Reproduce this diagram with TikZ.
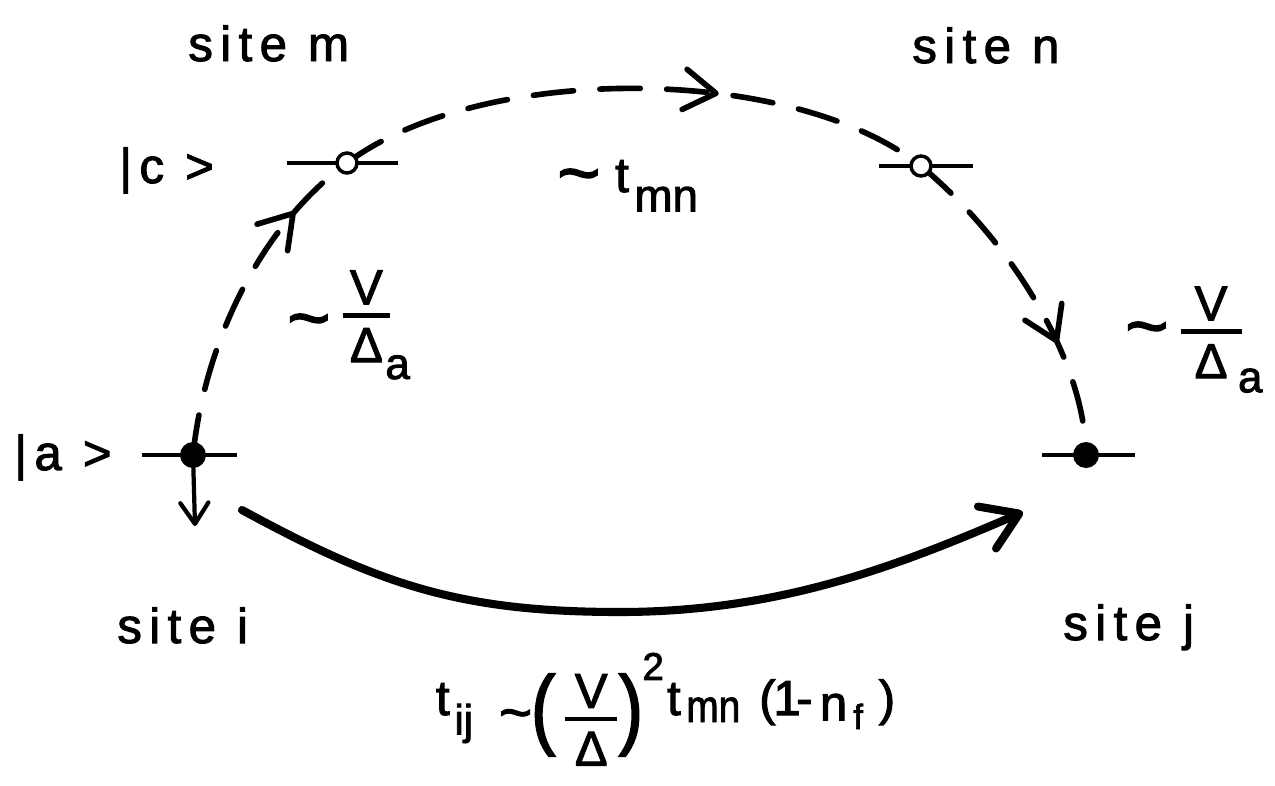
\documentclass[tikz,border=0pt]{standalone}
\usepackage{fontspec}
\usepackage{graphicx}
\setmainfont{Liberation Sans}[FakeBold=2]
\newfontfamily\lsfont{Liberation Sans}[LetterSpace=15,FakeBold=2]
\usetikzlibrary{arrows.meta,decorations.markings,calc}
\pgfdeclarelayer{bg}
\pgfsetlayers{bg,main}
% big tilde
\newcommand\btl[1]{\raisebox{-0.12em}{\fontsize{#1}{#1}\selectfont\textasciitilde}}
% piece placed at an offset from the start of the line
\newcommand\putat[2]{\rlap{\hskip#1\relax#2}}
% fraction: #1 height of bar above baseline, #2 side padding, #3 top, #4 bottom
\newcommand\barfrac[4]{%
  \setbox0\vbox{\halign{\hfil\kern#2##\kern#2\hfil\cr #4\cr}}%
  \setbox2\vbox{\halign{\hfil\kern#2##\kern#2\hfil\cr #3\cr\noalign{\kern5pt\hrule height 2.6pt\kern6pt}#4\cr}}%
  \raisebox{\dimexpr #1-\ht0-6pt-2.6pt\relax}{\box2}}
\newcommand\subA[2]{\rlap{\kern#1\smash{\raisebox{-#2}{\fontsize{25}{25}\selectfont a}}}}
\begin{document}
\begin{tikzpicture}[x=0.02cm,y=-0.02cm,
  lbl/.style={font=\fontsize{28}{32}\selectfont, inner sep=0pt},
  word/.style={font=\fontsize{28}{32}\selectfont\lsfont, inner sep=0pt},
  dashedconn/.style={line width=3.2pt, dash pattern=on 23pt off 15pt, line cap=round},
  level/.style={line width=1.8pt},
  fdot/.style={circle, fill=black, inner sep=0pt, minimum size=0.52cm},
  odot/.style={circle, draw=black, fill=white, line width=2pt, inner sep=0pt, minimum size=0.4cm},
  midarrow/.style={postaction={decorate}, decoration={markings, mark=at position #1 with {\pgfsetdash{}{0pt}\arrow{Straight Barb[length=18pt,width=23pt,round,line width=3.2pt]}}}}]
\useasboundingbox (0,0) rectangle (1275,785);
% states
\node[fdot] (a) at (193,455) {};
\node[odot] (m) at (347,163) {};
\node[odot] (n) at (921,166) {};
\node[fdot] (j) at (1086,455) {};
\coordinate (adown) at (195,526);
\coordinate (ti) at (242,510);
\coordinate (tmid) at (620,612);
\coordinate (tj) at (1023,512);
\begin{pgfonlayer}{bg}
  \draw[dashedconn, midarrow=0.79] (a.center) .. controls (205,340) and (262,225) .. (m.center);
  \draw[dashedconn, midarrow=0.64] (m.center) .. controls (480,63) and (790,63) .. (n.center);
  \draw[dashedconn, midarrow=0.66] (n.center) .. controls (1010,240) and (1085,360) .. (j.center);
  \draw[level] ($(a)+(-51,0)$) -- ($(a)+(44,0)$);
  \draw[level] ($(m)+(-60,0)$) -- ($(m)+(51,0)$);
  \draw[level] ($(n)+(-42,0)$) -- ($(n)+(52,0)$);
  \draw[level] ($(j)+(-44,0)$) -- ($(j)+(49,0)$);
\end{pgfonlayer}
\draw[line width=2.4pt, -{Straight Barb[length=12pt,width=16pt,round]}] (a.center) -- (adown);
\draw[line width=4.6pt, line cap=round, -{Straight Barb[length=20pt,width=26pt,round]}]
  (ti) .. controls (380,585) and (460,612) .. (tmid) .. controls (780,612) and (900,565) .. (tj);
% labels
\node[word, anchor=base west] (sm) at (188,61) {site m};
\node[word, anchor=base west] (sn) at (912,63) {site n};
\node[word, anchor=base west] (si) at (117,643) {site i};
\node[word, anchor=base west] (sj) at (1063,640) {site j};
\node[word, anchor=base west] (ka) at (14,470) {|a >};
\node[word, anchor=base west] (kc) at (119,183) {|c >};
\node[lbl, anchor=base west] (tmn) at (556,192) {\putat{0pt}{\btl{42}}\putat{33pt}{t}\putat{44pt}{\raisebox{-11pt}{\fontsize{26}{26}\selectfont mn}}\hskip84pt};
\node[lbl, anchor=base west] (vl) at (286,337) {\putat{0pt}{\btl{42}}\putat{31.5pt}{\barfrac{13.6pt}{4.2pt}{V}{Δ\subA{1.5pt}{9.6pt}}}\hskip75pt};
\node[lbl, anchor=base west] (vr) at (1124,345) {\putat{0pt}{\btl{42}}\putat{31.5pt}{\barfrac{9pt}{8pt}{V}{Δ\subA{6pt}{8pt}}}\hskip78pt};
\node[lbl, anchor=base west] (tij) at (433,715) {%
  \putat{1pt}{t}%
  \putat{11.5pt}{\raisebox{-11pt}{\fontsize{24}{24}\selectfont ij}}%
  \putat{37pt}{\raisebox{-6pt}{\btl{32}}}%
  \putat{55pt}{\raisebox{-13pt}{\scalebox{1.5}[1.8]{(}}}%
  \putat{74.5pt}{\barfrac{-1pt}{5.5pt}{V}{Δ}}%
  \putat{105pt}{\raisebox{-13pt}{\scalebox{1.5}[1.8]{)}}}%
  \putat{118.5pt}{\raisebox{20pt}{\fontsize{22}{22}\selectfont 2}}%
  \putat{132.5pt}{t}%
  \putat{143.5pt}{\raisebox{-4pt}{\scalebox{0.85}[1]{\fontsize{26}{26}\selectfont mn}}}%
  \putat{185pt}{(}%
  \putat{193pt}{1}%
  \putat{206pt}{-}%
  \putat{219.5pt}{\raisebox{-3pt}{n}}%
  \putat{238.5pt}{\raisebox{-8pt}{\fontsize{20}{20}\selectfont f}}%
  \putat{253pt}{)}%
  \hskip262pt};
\end{tikzpicture}
\end{document}
